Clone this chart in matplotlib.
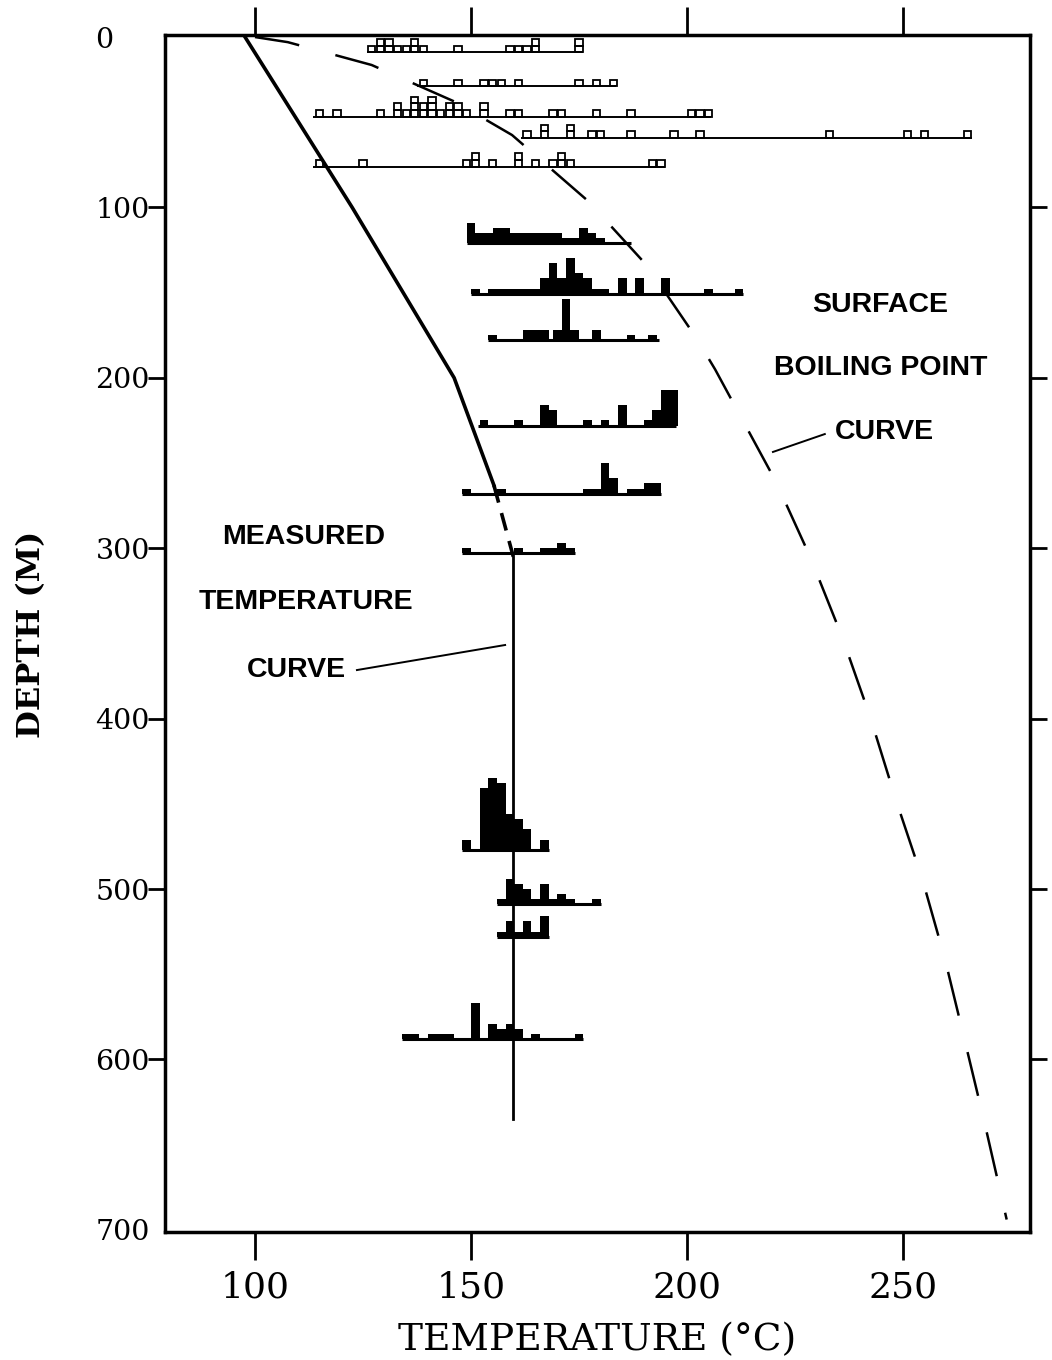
import numpy as np
import matplotlib
matplotlib.use("Agg")
import matplotlib.pyplot as plt

# ---- open-box histograms (shallow samples), one count = one box ----
open_depth = [9, 29, 47, 59.4, 76]
open_span = [(126, 176), (137.5, 183.5), (113.5, 205.5), (161.5, 266), (113.4, 195)]
open_bins = [
    [126, 128, 130, 132, 134, 136, 138, 146, 158, 160, 162, 164, 174],
    [138, 146, 152, 154, 156, 160, 174, 178, 182],
    [114, 118, 128, 132, 134, 136, 138, 140, 142, 144, 146, 148, 152, 158, 160,
     168, 170, 178, 186, 200, 202, 204],
    [162, 166, 172, 177, 179, 186, 196, 202, 232, 250, 254, 264],
    [114, 124, 148, 150, 154, 160, 164, 168, 170, 172, 191, 193],
]
open_counts = [
    [1, 2, 2, 1, 1, 2, 1, 1, 1, 1, 1, 2, 2],
    [1, 1, 1, 1, 1, 1, 1, 1, 1],
    [1, 1, 1, 2, 1, 3, 2, 3, 1, 2, 2, 1, 2, 1, 1, 1, 1, 1, 1, 1, 1, 1],
    [1, 2, 2, 1, 1, 1, 1, 1, 1, 1, 1, 1],
    [1, 1, 1, 2, 1, 2, 1, 1, 2, 1, 1, 1],
]

# ---- filled histograms (deeper samples) ----
fill_depth = [121, 150.6, 178, 228, 268, 303, 477, 509, 528, 588]
fill_span = [(149, 187), (150, 213), (154, 193.5), (151.6, 197.5), (148, 194),
             (148, 174), (148, 168), (156, 180), (156, 168), (134, 176)]
fill_bins = [
    [149, 151, 153, 155, 157, 159, 161, 163, 165, 167, 169, 171, 173, 175, 177, 179],
    [150, 154, 156, 158, 160, 162, 164, 166, 168, 170, 172, 174, 176, 178, 180,
     184, 188, 194, 204, 211],
    [154, 162, 164, 166, 169, 171, 173, 178, 186, 191],
    [152, 160, 166, 168, 176, 180, 184, 190, 192, 194, 196],
    [148, 156, 176, 178, 180, 182, 186, 188, 190, 192],
    [148, 160, 166, 168, 170, 172],
    [148, 152, 154, 156, 158, 160, 162, 166],
    [156, 158, 160, 162, 164, 166, 168, 170, 172, 178],
    [156, 158, 160, 162, 164, 166],
    [134, 136, 140, 142, 144, 150, 154, 156, 158, 160, 164, 174],
]
fill_counts = [
    [4, 2, 2, 3, 3, 2, 2, 2, 2, 2, 2, 1, 1, 3, 2, 1],
    [1, 1, 1, 1, 1, 1, 1, 3, 6, 3, 7, 4, 3, 1, 1, 3, 3, 3, 1, 1],
    [1, 2, 2, 2, 2, 8, 2, 2, 1, 1],
    [1, 1, 4, 3, 1, 1, 4, 1, 3, 7, 7],
    [1, 1, 1, 1, 6, 3, 1, 1, 2, 2],
    [1, 1, 1, 1, 2, 1],
    [2, 12, 14, 13, 7, 6, 4, 2],
    [1, 5, 4, 3, 1, 4, 1, 2, 1, 1],
    [1, 3, 1, 3, 1, 4],
    [1, 1, 1, 1, 1, 7, 3, 2, 3, 2, 1, 1],
]

# ---- curves ----
meas_temp = [97.7, 122.5, 146.1, 155.3]
meas_depth = [0, 100, 200, 263]
meas_dash_temp = [155.3, 159.8]
meas_dash_depth = [263, 305]
meas_vert_depth = [305, 635]

bp_temp = [100, 107.6, 127, 146.3, 159.5, 177, 190.7, 202, 206.5, 220.6, 228.5,
           235.9, 242.4, 248.4, 254.4, 259.7, 264.4, 269, 274.0]
bp_depth = [0, 3, 16.4, 38, 57.5, 96, 134, 176, 195, 261, 305, 352, 399, 448,
            493.5, 541, 590, 638.5, 694]

BIN = 2.0
BOX = 4.0   # metres per box (open)
BAR = 3.0   # metres per count (filled)

fig = plt.figure(figsize=(10.52, 13.6), dpi=100)
ax = fig.add_axes([165 / 1052, 1 - 1232 / 1360, 865 / 1052, 1197 / 1360])

for d, (t0, t1), b, c in zip(open_depth, open_span, open_bins, open_counts):
    b = np.array(b, float)
    c = np.array(c)
    ax.hlines(d, t0, t1, color='k', lw=1.4)
    for k in range(c.max()):
        sel = c > k
        ax.bar(b[sel] + 0.15, -BOX, width=BIN - 0.3, bottom=d - k * BOX,
               align='edge', fill=False, edgecolor='k', lw=1.3)

for d, (t0, t1), b, c in zip(fill_depth, fill_span, fill_bins, fill_counts):
    ax.bar(b, -np.array(c) * BAR, width=BIN, bottom=d, align='edge',
           color='k', lw=0)
    ax.hlines(d, t0, t1, color='k', lw=2.2)

ax.plot(meas_temp, meas_depth, color='k', lw=2.6)
ax.plot(meas_dash_temp, meas_dash_depth, color='k', lw=2.6, ls=(0, (5, 3)))
ax.plot([meas_dash_temp[-1]] * 2, meas_vert_depth, color='k', lw=2.0)
ax.plot(bp_temp, bp_depth, color='k', lw=1.8, ls=(0, (18, 15)))

lab = dict(family='Liberation Sans', fontweight='bold', fontsize=20.5,
           ha='center', va='center')
ax.text(244.7, 157.3, 'SURFACE', **lab)
ax.text(244.9, 194, 'BOILING POINT', **lab)
ax.text(245.6, 232, 'CURVE', **lab)
ax.plot([219.9, 231.9], [243.5, 233], color='k', lw=1.4)
ax.text(111.3, 293.4, 'MEASURED', **lab)
ax.text(111.8, 331.6, 'TEMPERATURE', **lab)
ax.text(109.7, 371.5, 'CURVE', **lab)
ax.plot([123.6, 157.9], [371.5, 356.8], color='k', lw=1.4)

ax.set_xlim(79.17, 279.4)
ax.set_ylim(701.3, -1.2)
ax.set_xticks([100, 150, 200, 250])
ax.set_yticks(range(0, 701, 100))
ax.set_yticks(range(100, 601, 100), minor=True)
ax.yaxis.remove_overlapping_locs = False
ax.tick_params(axis='x', direction='out', length=20, width=2, top=True,
               pad=8, labelsize=26)
# labels only on the major y ticks, marks drawn by the minor ones
ax.tick_params(axis='y', which='major', length=0, pad=50, labelsize=20.5)
ax.tick_params(axis='y', which='minor', direction='out', length=12, width=2,
               left=True, right=True)
for t in ax.get_xticklabels() + ax.get_yticklabels():
    t.set_family('DejaVu Serif')
for t in ax.get_yticklabels():
    t.set_ha('left')
for s in ax.spines.values():
    s.set_linewidth(2.5)

fig.text(597.5 / 1052, 1 - 1340 / 1360, 'TEMPERATURE (°C)', family='DejaVu Serif',
         fontsize=27, ha='center', va='center')
fig.text(32 / 1052, 1 - 634 / 1360, 'DEPTH (M)', family='DejaVu Serif',
         fontweight='bold', fontsize=23, rotation=90, ha='center', va='center')

fig.savefig('out.png', dpi=100)
